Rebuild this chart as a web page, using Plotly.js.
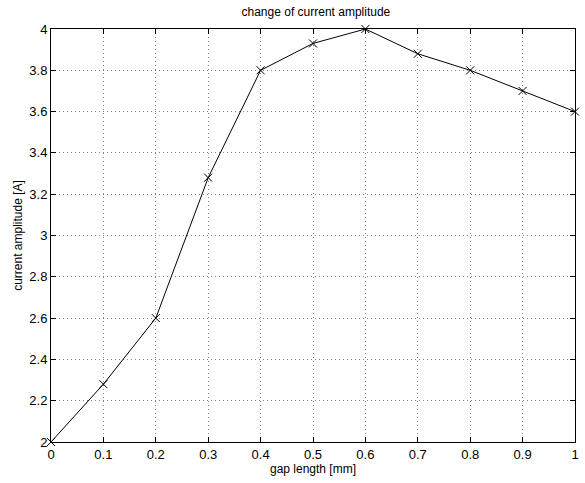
<!DOCTYPE html>
<html><head><meta charset="utf-8">
<script src="https://cdn.plot.ly/plotly-3.0.1.min.js"></script>
<style>body{margin:0;padding:0;background:#fff}#plot{width:585px;height:483px}</style>
</head><body><div id="plot"></div>
<script>
const gapLength = [0, 0.1, 0.2, 0.3, 0.4, 0.5, 0.6, 0.7, 0.8, 0.9, 1.0];
const currentAmplitude = [2.0, 2.28, 2.6, 3.28, 3.8, 3.93, 4.0, 3.88, 3.8, 3.7, 3.6];
const xTicks = [0, 0.1, 0.2, 0.3, 0.4, 0.5, 0.6, 0.7, 0.8, 0.9, 1];
const xTickLabels = ['0','0.1','0.2','0.3','0.4','0.5','0.6','0.7','0.8','0.9','1'];
const yTicks = [2, 2.2, 2.4, 2.6, 2.8, 3, 3.2, 3.4, 3.6, 3.8, 4];
const yTickLabels = ['2','2.2','2.4','2.6','2.8','3','3.2','3.4','3.6','3.8','4'];

const fam = 'Liberation Sans, Arial, sans-serif';
const axisCommon = {
  showline: true, linecolor: '#000', linewidth: 1, mirror: 'ticks',
  ticks: 'inside', ticklen: 5, tickcolor: '#000',
  showgrid: true, gridcolor: '#888', griddash: '1px,3px', gridwidth: 1,
  zeroline: false, tickfont: {family: fam, size: 13, color: '#000'}
};
Plotly.newPlot('plot', [{
  x: gapLength, y: currentAmplitude, type: 'scatter', mode: 'lines+markers',
  line: {color: '#000', width: 1},
  marker: {symbol: 'x-thin-open', size: 8, color: '#000', line: {color: '#000', width: 1}},
  cliponaxis: false
}], {
  width: 585, height: 483,
  margin: {l: 51, r: 10, t: 29, b: 41},
  paper_bgcolor: '#fff', plot_bgcolor: '#fff',
  font: {family: fam, size: 12, color: '#000'}, showlegend: false,
  title: {text: 'change of current amplitude', font: {family: fam, size: 12, color: '#000'}, x: 0.54, xanchor: 'center', y: 0.975, yanchor: 'middle'},
  xaxis: Object.assign({}, axisCommon, {range: [0, 1], tickvals: xTicks, ticktext: xTickLabels,
    title: {text: 'gap length [mm]', font: {family: fam, size: 12, color: '#000'}, standoff: 0}}),
  yaxis: Object.assign({}, axisCommon, {range: [2, 4], tickvals: yTicks, ticktext: yTickLabels,
    title: {text: 'current amplitude [A]', font: {family: fam, size: 12, color: '#000'}, standoff: 4}})
}, {displayModeBar: false, staticPlot: true});
</script></body></html>
